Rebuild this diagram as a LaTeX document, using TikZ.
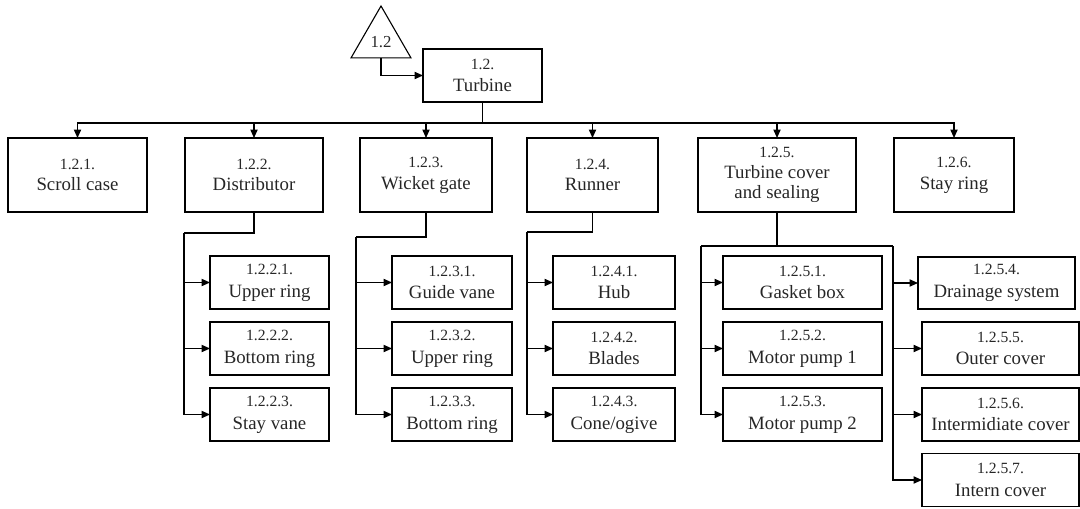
\documentclass[tikz,border=0pt]{standalone}
\usepackage{fontspec}
\setmainfont{Liberation Serif}
\usetikzlibrary{arrows.meta,shapes.geometric}
\newcommand{\nm}[1]{{\fontsize{7.8}{9}\selectfont #1}}
\begin{document}
\begin{tikzpicture}[x=0.5pt,y=-0.5pt,
  line width=0.6pt,
  box/.style={draw, line width=0.55pt, align=center, inner sep=0pt, outer sep=0pt, text=black!85,
     font=\fontsize{9.4}{11.4}\selectfont},
  top/.style={box, minimum height=37pt, font=\fontsize{9.4}{10.9}\selectfont},
  sub/.style={box, minimum height=26.5pt},
  arr/.style={-{Triangle[length=4.2pt,width=3.6pt]}},
]
\useasboundingbox (0,0) rectangle (1080,508);

% root
\node[draw, regular polygon, regular polygon sides=3, minimum size=34.6pt, inner sep=0pt, outer sep=0pt,
      line width=0.55pt] (tri) at (381,40.6) {};
\node[text=black!85, font=\fontsize{8.4}{9}\selectfont] (tril) at (381,42) {1.2};
\node[box, minimum width=59.5pt, minimum height=26.5pt] (turb) at (482.5,75.5) {\nm{1.2.}\\Turbine};
\draw[arr] (tri.south) |- (turb.west);

% level 1
\node[top, minimum width=69.5pt] (b1) at (77.5,175) {\nm{1.2.1.}\\Scroll case};
\node[top, minimum width=69pt]   (b2) at (254,175) {\nm{1.2.2.}\\Distributor};
\node[top, minimum width=66pt]   (b3) at (426,175) {\nm{1.2.3.}\\Wicket gate};
\node[top, minimum width=65.5pt] (b4) at (592.5,175) {\nm{1.2.4.}\\Runner};
\node[top, minimum width=79pt, font=\fontsize{9.4}{10.3}\selectfont] (b5) at (777,175) {\nm{1.2.5.}\\Turbine cover\\and sealing};
\node[top, minimum width=60pt]   (b6) at (954,175) {\nm{1.2.6.}\\Stay ring};

\coordinate (bus) at (482.5,123);
\draw (turb.south) -- (bus);
\foreach \b in {b1,b2,b3,b4,b5,b6} \draw[arr] (bus) -| (\b.north);

% distributor
\node[sub, minimum width=59.5pt] (s221) at (269.5,282.5) {\nm{1.2.2.1.}\\Upper ring};
\node[sub, minimum width=59.5pt] (s222) at (269.5,348.5) {\nm{1.2.2.2.}\\Bottom ring};
\node[sub, minimum width=59.5pt] (s223) at (269.5,414.5) {\nm{1.2.2.3.}\\Stay vane};
\coordinate (d) at (184,233);
\draw (b2.south) |- (d);
\foreach \s in {s221,s222,s223} \draw[arr] (d) |- (\s.west);

% wicket gate
\node[sub, minimum width=60pt] (s231) at (452,282.5) {\nm{1.2.3.1.}\\Guide vane};
\node[sub, minimum width=60pt] (s232) at (452,348.5) {\nm{1.2.3.2.}\\Upper ring};
\node[sub, minimum width=60pt] (s233) at (452,414.5) {\nm{1.2.3.3.}\\Bottom ring};
\coordinate (w) at (356,237);
\draw (b3.south) |- (w);
\foreach \s in {s231,s232,s233} \draw[arr] (w) |- (\s.west);

% runner
\node[sub, minimum width=61pt] (s241) at (614,282.5) {\nm{1.2.4.1.}\\Hub};
\node[sub, minimum width=61pt] (s242) at (614,348.5) {\nm{1.2.4.2.}\\Blades};
\node[sub, minimum width=61pt] (s243) at (614,414.5) {\nm{1.2.4.3.}\\Cone/ogive};
\coordinate (r) at (527,232);
\draw (b4.south) |- (r);
\foreach \s in {s241,s242,s243} \draw[arr] (r) |- (\s.west);

% turbine cover
\node[sub, minimum width=79.5pt] (s251) at (802.5,282.5) {\nm{1.2.5.1.}\\Gasket box};
\node[sub, minimum width=79.5pt] (s252) at (802.5,348.5) {\nm{1.2.5.2.}\\Motor pump 1};
\node[sub, minimum width=79.5pt] (s253) at (802.5,414.5) {\nm{1.2.5.3.}\\Motor pump 2};
\node[sub, minimum width=78.5pt, minimum height=26pt] (s254) at (996.5,283) {\nm{1.2.5.4.}\\Drainage system};
\node[sub, minimum width=78.5pt] (s255) at (1000.5,348.5) {\nm{1.2.5.5.}\\Outer cover};
\node[sub, minimum width=78.5pt] (s256) at (1000.5,414.5) {\nm{1.2.5.6.}\\Intermidiate cover};
\node[sub, minimum width=78.5pt] (s257) at (1000.5,480) {\nm{1.2.5.7.}\\Intern cover};
\coordinate (c) at (701,246);
\coordinate (cm) at (777,246);
\coordinate (c2) at (893,246);
\draw (b5.south) -- (cm);
\draw (c) -- (c2);
\foreach \s in {s251,s252,s253} \draw[arr] (c) |- (\s.west);
\foreach \s in {s254,s255,s256,s257} \draw[arr] (c2) |- (\s.west);
\end{tikzpicture}
\end{document}
